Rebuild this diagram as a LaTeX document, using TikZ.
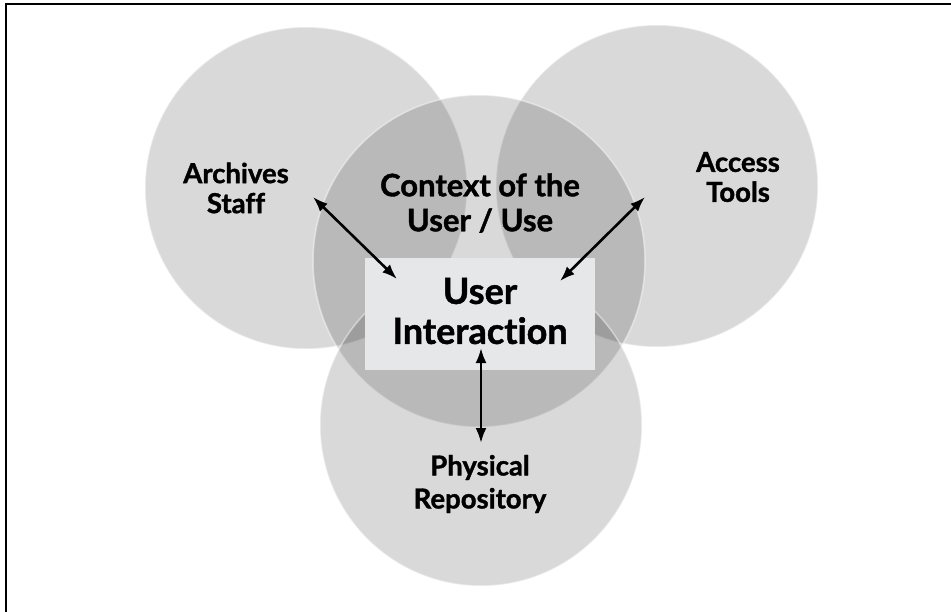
\documentclass[tikz,border=0pt]{standalone}
\usepackage{fontspec}
\setmainfont{Lato}
\newfontfamily\lblfont{Lato}[UprightFont=* Bold, FakeBold=1.3, Ligatures={NoCommon}]
\usetikzlibrary{arrows.meta}
\definecolor{boxfill}{HTML}{E6E7E9}
\begin{document}
\begin{tikzpicture}[x=1pt,y=-1pt,
  venn/.style={fill=black, fill opacity=0.15, draw=white, draw opacity=0.45, line width=1.5pt},
  lbl/.style={font=\lblfont\fontsize{27.5}{30}\selectfont, align=center, text=black, inner sep=0pt},
  ctx/.style={font=\lblfont\fontsize{31}{35}\selectfont, align=center, text=black, inner sep=0pt},
  uit/.style={font=\lblfont\fontsize{36}{40}\selectfont, align=center, text=black, inner sep=0pt},
  uibox/.style={fill=boxfill, draw=none, minimum width=230pt, minimum height=112pt, inner sep=0pt},
  link/.style={{Latex[length=15pt,width=11pt]}-{Latex[length=15pt,width=11pt]}, line width=2.6pt}]
\clip (0,0) rectangle (951,611);
\draw[line width=2pt] (5.5,640) -- (5.5,4) -- (980,4);
% circles
\path[venn] (306,188) circle[radius=161];
\path[venn] (657,186) circle[radius=161];
\path[venn] (479,261) circle[radius=166];
\path[venn] (481,425) circle[radius=161];
% central box
\node[uibox] (box) at (480,314) {};
\node[uit] (ui) at (480,311) {User\\Interaction};
% labels
\node[lbl] (staff) at (236,188) {Archives\\Staff};
\node[lbl] (tools) at (738,177) {Access\\Tools};
\node[ctx] (ctx) at (480,203) {Context of the\\User / Use};
\node[lbl, font=\lblfont\fontsize{27.5}{33}\selectfont] (repo) at (480,484) {Physical\\Repository};
% arrow ends
\coordinate (a1) at (313,197);
\coordinate (a2) at (397,279);
\coordinate (b1) at (645,197);
\coordinate (b2) at (560,281);
\coordinate (c1) at (481,348);
\coordinate (c2) at (481,443);
\draw[link] (a1) -- (a2);
\draw[link] (b1) -- (b2);
\draw[link] (c1) -- (c2);
\end{tikzpicture}
\end{document}
